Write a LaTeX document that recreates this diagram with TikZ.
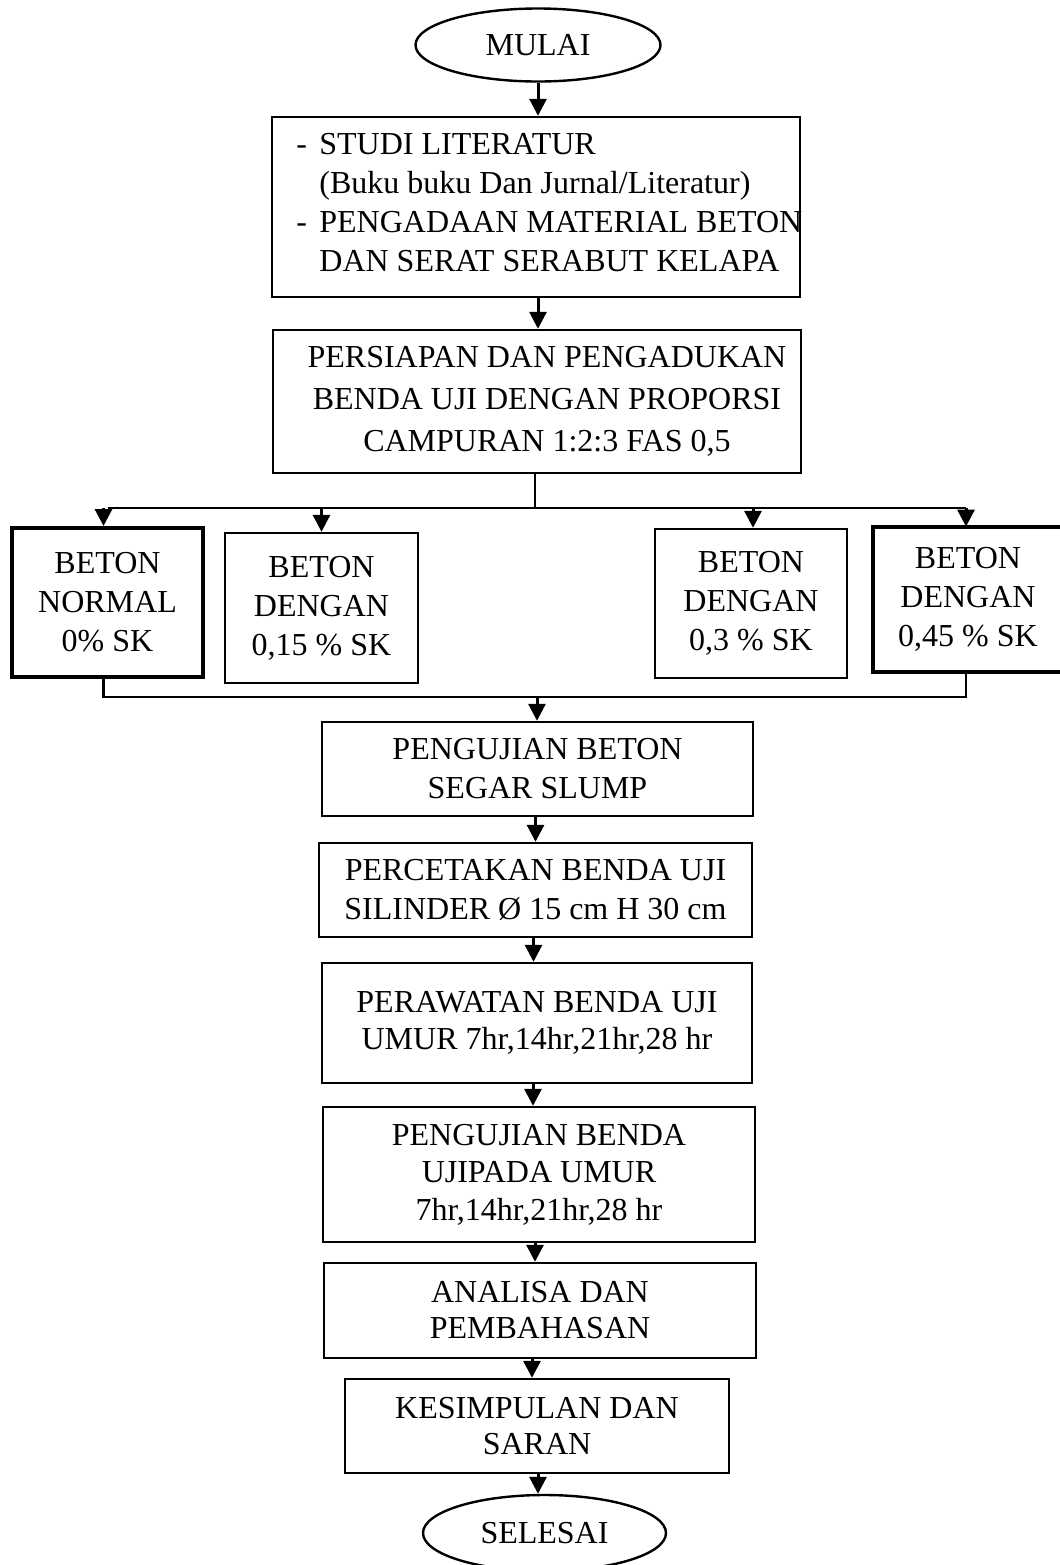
\documentclass[tikz,border=0pt]{standalone}
\usepackage{fontspec}
\setmainfont{Liberation Serif}
\usetikzlibrary{shapes.geometric,arrows.meta,calc}
\begin{document}
\begin{tikzpicture}[x=0.5pt,y=-0.5pt,
  every node/.style={font=\fontsize{16}{19.5}\selectfont, inner sep=0pt},
  box/.style={draw, rectangle, line width=1.2pt, align=center},
  thickbox/.style={box, line width=2pt},
  openbox/.style={rectangle, align=center},
  term/.style={draw, ellipse, line width=1.2pt, align=center},
  arr/.style={line width=1.5pt, -{Triangle[length=8.5pt,width=8.5pt]}},
  thinline/.style={line width=0.6pt},
  mergeline/.style={line width=1.2pt},
  heavy/.style={line width=2pt}
]
\useasboundingbox (0,0) rectangle (1060,1565);

% terminals
\node[term, minimum width=122.5pt, minimum height=36.5pt] (mulai) at (538,45) {MULAI};
\node[term, minimum width=121.5pt, minimum height=38pt] (selesai) at (544.5,1533) {SELESAI};

% top boxes
\node[box, minimum width=264pt, minimum height=90pt] (lit) at (536,207) {};
\node[anchor=west, align=left] (littext) at (296,205) {%
  \begin{tabular}{@{}l@{}l@{}}
  \makebox[11.5pt][l]{-} & STUDI LITERATUR\\
   & (Buku buku Dan Jurnal/Literatur)\\
  \makebox[11.5pt][l]{-} & PENGADAAN MATERIAL BETON\\
   & DAN SERAT SERABUT KELAPA
  \end{tabular}};

\node[box, minimum width=264pt, minimum height=71.5pt, font=\fontsize{16}{21}\selectfont] (prep) at (537,401.5)
  {\hspace*{10pt}\begin{tabular}{@{}c@{}}PERSIAPAN DAN PENGADUKAN\\ BENDA UJI DENGAN PROPORSI\\ CAMPURAN 1:2:3 FAS 0,5\end{tabular}};

% four variants
\node[thickbox, minimum width=95.5pt, minimum height=74.5pt] (va) at (107.5,602.5) {BETON\\ NORMAL\\ 0\% SK};
\node[box, minimum width=96.5pt, minimum height=75pt] (vb) at (321.5,608) {BETON\\ DENGAN\\ 0,15 \% SK};
\node[box, minimum width=96pt, minimum height=74.5pt] (vc) at (751,603.5) {BETON\\ DENGAN\\ 0,3 \% SK};
\node[openbox, minimum width=95pt, minimum height=72.5pt] (vd) at (968,599.5) {BETON\\ DENGAN\\ 0,45 \% SK};
\draw[heavy] ([xshift=10pt]vd.north east) -- (vd.north west) -- (vd.south west) -- ([xshift=10pt]vd.south east);

% lower chain
\node[box, minimum width=215.5pt, minimum height=47pt] (slump) at (537.5,769) {PENGUJIAN BETON\\ SEGAR SLUMP};
\node[box, minimum width=216.5pt, minimum height=47pt] (cetak) at (535.5,890) {PERCETAKAN BENDA UJI\\ SILINDER \O{} 15 cm H 30 cm};
\node[box, minimum width=215pt, minimum height=60pt, font=\fontsize{16}{18.5}\selectfont] (rawat) at (537,1023) {PERAWATAN BENDA UJI\\ UMUR 7hr,14hr,21hr,28 hr};
\node[box, minimum width=216pt, minimum height=67.5pt, font=\fontsize{16}{18.8}\selectfont] (uji) at (539,1174.5) {PENGUJIAN BENDA\\ UJIPADA UMUR\\ 7hr,14hr,21hr,28 hr};
\node[box, minimum width=216pt, minimum height=47.5pt, font=\fontsize{16}{18}\selectfont] (analisa) at (540,1310.5) {ANALISA DAN\\ PEMBAHASAN};
\node[box, minimum width=192pt, minimum height=47pt, font=\fontsize{16}{18}\selectfont] (simpul) at (537,1426) {KESIMPULAN DAN\\ SARAN};

% connectors top
\draw[arr] (mulai.south) -- (mulai.south |- lit.north);
\draw[arr] ([xshift=1pt]lit.south) -- ([xshift=1pt]lit.south |- prep.north);

% branch
\coordinate (split) at (535,508);
\coordinate (merge) at (537,697);
\draw[thinline] ([xshift=-1pt]prep.south) -- (split);
\draw[thinline] (va.north |- split) -- ([xshift=-1pt]vd.north |- split);
\draw[arr] ([xshift=-2pt]va.north |- split) -- ([xshift=-2pt]va.north);
\draw[arr] (vb.north |- split) -- (vb.north);
\draw[arr] ([xshift=1pt]vc.north |- split) -- ([xshift=1pt]vc.north);
\draw[arr] ([xshift=-1pt]vd.north |- split) -- ([xshift=-1pt]vd.north);

% merge
\draw[mergeline] ([xshift=-2pt]va.south) -- ([xshift=-2pt]va.south |- merge) -- ([xshift=-1pt]vd.south |- merge) -- ([xshift=-1pt]vd.south);
\draw[arr] (merge) -- (merge |- slump.north);

% lower chain
\draw[arr] ([xshift=-1pt]slump.south) -- ([xshift=-1pt]slump.south |- cetak.north);
\draw[arr] ([xshift=-1pt]cetak.south) -- ([xshift=-1pt]cetak.south |- rawat.north);
\draw[arr] ([xshift=-2pt]rawat.south) -- ([xshift=-2pt]rawat.south |- uji.north);
\draw[arr] ([xshift=-2pt]uji.south) -- ([xshift=-2pt]uji.south |- analisa.north);
\draw[arr] ([xshift=-4pt]analisa.south) -- ([xshift=-4pt]analisa.south |- simpul.north);
\draw[arr] ([xshift=0.5pt]simpul.south) -- ([xshift=0.5pt]simpul.south |- selesai.north);
\end{tikzpicture}
\end{document}
